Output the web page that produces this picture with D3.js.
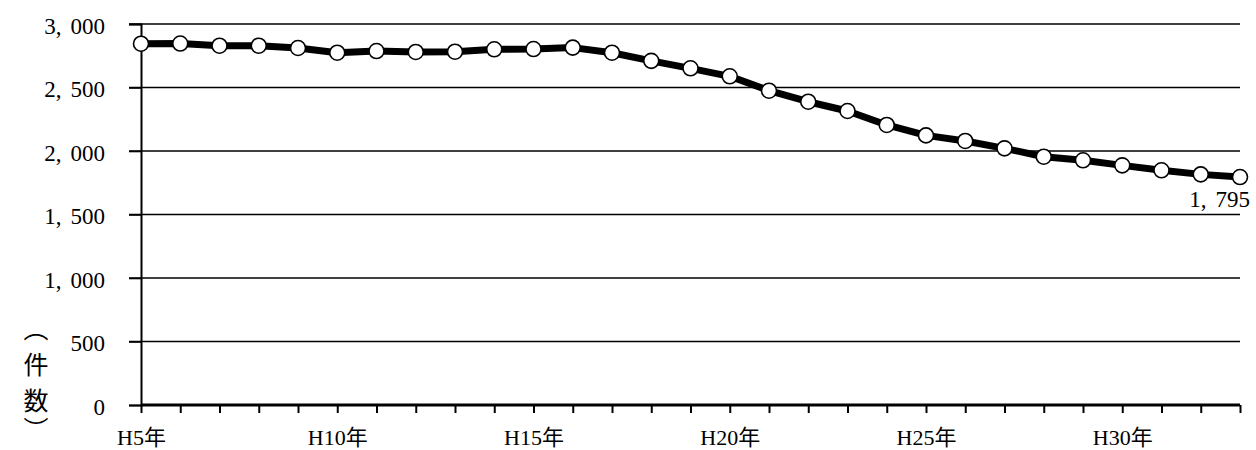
<!DOCTYPE html>
<html>
<head>
<meta charset="utf-8">
<script src="https://cdn.jsdelivr.net/npm/d3@7"></script>
<style>
  body { margin: 0; background: #fff; }
  text { font-family: "Liberation Serif", "Noto Sans CJK JP", serif; fill: #000; }
</style>
</head>
<body>
<div id="chart"></div>
<script>
// years H5..H33
var years = d3.range(5, 34);
var counts = [2845, 2846, 2829, 2829, 2811, 2774, 2787, 2780, 2782, 2801, 2803, 2814, 2774,
              2710, 2651, 2588, 2475, 2388, 2315, 2205, 2123, 2079, 2021, 1955, 1927, 1887,
              1848, 1816, 1795];
var yTicks = [0, 500, 1000, 1500, 2000, 2500, 3000];
var labelYears = [5, 10, 15, 20, 25, 30];
var yTitle = ["（", "件", "数", "）"];

var width = 1256, height = 450;
var plotLeft = 141, plotRight = 1240, plotTop = 24, plotBottom = 405;

var svg = d3.select("#chart").append("svg")
    .attr("width", width)
    .attr("height", height);

var x = d3.scaleLinear().domain([5, 33]).range([plotLeft, plotRight]);
var y = d3.scaleLinear().domain([0, 3000]).range([plotBottom, plotTop]);

var fmt = d3.format(",");

// put a gap after the comma, like the original font does
function spaceComma(sel){
  sel.each(function(){
    var t = d3.select(this), s = t.text(), parts = s.split(",");
    if (parts.length < 2) return;
    t.text(parts[0] + ",");
    t.append("tspan").attr("dx", 9).text(parts.slice(1).join(","));
  });
}

// gridlines
svg.append("g")
  .selectAll("line")
  .data(yTicks.slice(1))
  .enter().append("line")
    .attr("x1", plotLeft - 12).attr("x2", plotRight)
    .attr("y1", function(d){ return y(d); })
    .attr("y2", function(d){ return y(d); })
    .attr("stroke", "#000")
    .attr("stroke-width", 1.6);

// y axis
var yAxis = svg.append("g")
    .attr("transform", "translate(" + plotLeft + ",0)")
    .call(d3.axisLeft(y).tickValues(yTicks).tickSize(12).tickFormat(fmt));
yAxis.select(".domain").attr("stroke-width", 2);
yAxis.selectAll(".tick line").attr("stroke-width", 1.6);
yAxis.selectAll("text")
    .attr("x", -36)
    .attr("dy", "0.4em")
    .style("font-size", "23px")
    .call(spaceComma);

// x axis
var xAxis = svg.append("g")
    .attr("transform", "translate(0," + plotBottom + ")")
    .call(d3.axisBottom(x).tickValues(years).tickSize(8)
      .tickFormat(function(d){ return labelYears.indexOf(d) >= 0 ? "H" + d + "年" : ""; }));
xAxis.select(".domain").attr("stroke-width", 3).attr("d", "M" + plotLeft + ",0H" + plotRight);
xAxis.selectAll(".tick line").attr("stroke-width", 2);
xAxis.selectAll("text")
    .attr("y", 40)
    .attr("dy", 0)
    .style("font-size", "22px");

// y axis title, one vertical glyph per character
svg.append("g")
  .selectAll("text")
  .data(yTitle)
  .enter().append("text")
    .attr("x", 36)
    .attr("y", function(d, i){ return [316, 352, 388, 417][i]; })
    .style("writing-mode", "vertical-rl")
    .style("font-family", "'Noto Sans CJK JP', sans-serif")
    .style("font-size", "25px")
    .text(function(d){ return d; });

// line
var line = d3.line()
    .x(function(d, i){ return x(years[i]); })
    .y(function(d){ return y(d); });

svg.append("path")
    .datum(counts)
    .attr("d", line)
    .attr("fill", "none")
    .attr("stroke", "#000")
    .attr("stroke-width", 7)
    .attr("stroke-linejoin", "round");

svg.append("g")
  .selectAll("circle")
  .data(counts)
  .enter().append("circle")
    .attr("cx", function(d, i){ return x(years[i]); })
    .attr("cy", function(d){ return y(d); })
    .attr("r", 7.5)
    .attr("fill", "#fff")
    .attr("stroke", "#000")
    .attr("stroke-width", 1.6);

// last value label
var last = counts.length - 1;
svg.append("text")
    .attr("x", x(years[last]) + 10)
    .attr("y", y(counts[last]) + 30)
    .attr("text-anchor", "end")
    .style("font-size", "23px")
    .text(fmt(counts[last]))
    .call(spaceComma);
</script>
</body>
</html>
